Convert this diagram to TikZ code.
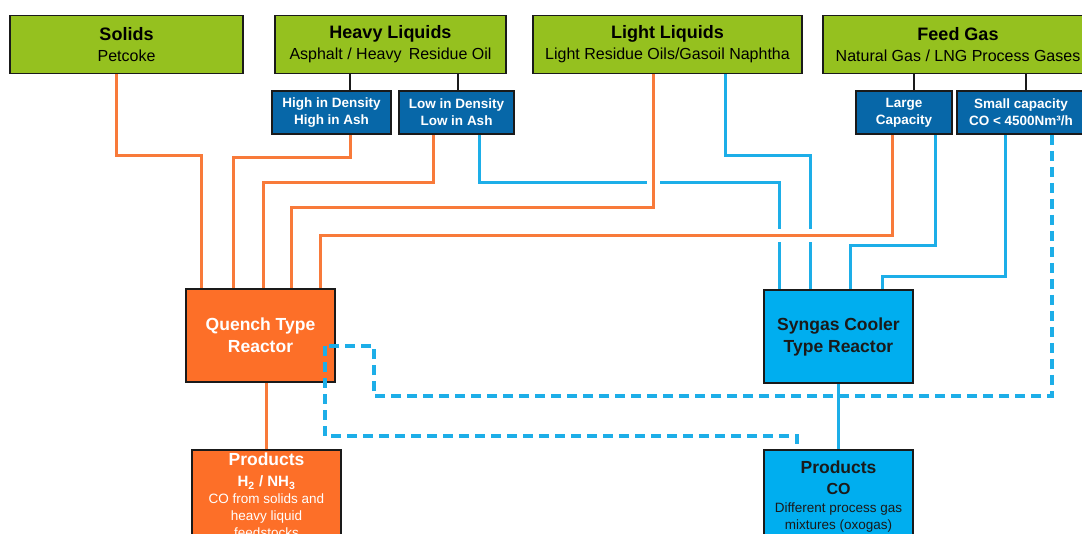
\documentclass[tikz,border=0pt]{standalone}
\usepackage{fontspec}
\setmainfont{Liberation Sans}
\usetikzlibrary{calc}
\definecolor{gbox}{HTML}{95C11F}
\definecolor{dbox}{HTML}{0767A8}
\definecolor{cbox}{HTML}{00AEEF}
\definecolor{obox}{HTML}{FD6F28}
\definecolor{oline}{HTML}{F87A3A}
\definecolor{bline}{HTML}{1DAEE8}
\definecolor{edge}{HTML}{1A1A1A}
\newcommand\fsz[2]{\fontsize{#1}{#2}\selectfont}
\pgfdeclarelayer{back}
\pgfdeclarelayer{bg}
\pgfsetlayers{back,bg,main}
\begin{document}
\begin{tikzpicture}[x=1pt,y=-1pt,
  box/.style={draw=edge,line width=1.8pt,inner sep=0pt,align=center},
  feedbox/.style={box,fill=gbox,minimum height=58pt,font=\fsz{16}{21}},
  subbox/.style={box,fill=dbox,text=white,minimum height=43pt,font=\fsz{13.5}{17}\bfseries},
  reactor/.style={box,minimum width=149pt,minimum height=93pt,font=\fsz{17.5}{22}\bfseries},
  prodbox/.style={box,minimum width=149pt,minimum height=120pt},
  ptext/.style={inner sep=0pt,align=center,font=\fsz{13.5}{17}},
  link/.style={draw=edge,line width=1.5pt},
  oconn/.style={draw=oline,line width=3pt,preaction={draw=white,line width=13pt}},
  bconn/.style={draw=bline,line width=3pt},
  dconn/.style={draw=bline,line width=3.2pt,dash pattern=on 10pt off 6pt},
]
\useasboundingbox (0,0) rectangle (1082,533);
\clip (0,0) rectangle (1082,533);
\begin{pgfonlayer}{back}
\fill[white] (0,0) rectangle (1082,533);
\end{pgfonlayer}

% feed boxes
\node[feedbox,minimum width=233pt] (solids) at (126.5,44.5) {{\fsz{18}{21}\bfseries Solids}\\Petcoke};
\node[feedbox,minimum width=231pt] (heavy) at (390.5,44.5) {{\fsz{18}{21}\bfseries Heavy Liquids}\\Asphalt / Heavy\hspace{0.45em}Residue Oil};
\node[feedbox,minimum width=269pt] (light) at (667.5,44.5) {{\fsz{18}{21}\bfseries Light Liquids}\\Light Residue Oils/Gasoil Naphtha};
\node[feedbox,minimum width=270pt] (feed) at (958,44.5) {{\fsz{18}{21}\bfseries Feed Gas}\\Natural Gas / LNG Process Gases};

% sub boxes
\node[subbox,minimum width=119pt] (hiD) at (331.5,112.5) {High in Density\\High in Ash};
\node[subbox,minimum width=115pt] (loD) at (456.5,112.5) {Low in Density\\Low in Ash};
\node[subbox,minimum width=96pt] (large) at (904,112.5) {Large\\Capacity};
\node[subbox,minimum width=128pt] (small) at (1021,112.5) {Small capacity\\CO < 4500Nm³/h};

% reactors
\node[reactor,fill=obox,text=white] (quench) at (260.5,335.5) {Quench Type\\Reactor};
\node[reactor,fill=cbox,text=edge] (syngas) at (838.5,336.5) {Syngas Cooler\\Type Reactor};

% products
\node[prodbox,fill=obox] (prodQ) at (266.5,510) {};
\node[prodbox,fill=cbox] (prodS) at (838.5,510) {};
\node[ptext,text=white,anchor=north] (prodQt) at ($(prodQ.north)+(0,4)$) {{\fsz{17.5}{21}\bfseries Products}\\[4pt]{\fsz{15}{17}\bfseries H\textsubscript{2} / NH\textsubscript{3}}\\CO from solids and\\heavy liquid\\feedstocks};
\node[ptext,text=edge,anchor=north] (prodSt) at ($(prodS.north)+(0,12)$) {{\fsz{17.5}{21}\bfseries Products}\\[4pt]{\fsz{16}{17}\bfseries CO}\\[1pt]Different process gas\\mixtures (oxogas)};

\begin{pgfonlayer}{bg}
% black links
\draw[link] (heavy.south -| 350,0) -- (hiD.north -| 350,0);
\draw[link] (heavy.south -| 458,0) -- (loD.north -| 458,0);
\draw[link] (feed.south -| 914,0) -- (large.north -| 914,0);
\draw[link] (feed.south -| 1026,0) -- (small.north -| 1026,0);
% blue connectors
\draw[bconn] (loD.south -| 479,0) |- (779,182) -- (syngas.north -| 779,0);
\draw[bconn] (light.south -| 725,0) |- (810,155) -- (syngas.north -| 810,0);
\draw[bconn] (large.south -| 935,0) |- (850,245) -- (syngas.north -| 850,0);
\draw[bconn] (small.south -| 1005,0) |- (882,276) -- (syngas.north -| 882,0);
\draw[bconn] (syngas.south) -- (prodS.north);
% orange connectors
\draw[oconn] (solids.south -| 116,0) |- (201,155) -- (quench.north -| 201,0);
\draw[oconn] (hiD.south -| 350,0) |- (233,157) -- (quench.north -| 233,0);
\draw[oconn] (loD.south -| 433,0) |- (263,182) -- (quench.north -| 263,0);
\draw[oconn] (light.south -| 653,0) |- (291,207) -- (quench.north -| 291,0);
\draw[oconn] (large.south -| 892,0) |- (320,235) -- (quench.north -| 320,0);
\draw[draw=oline,line width=3pt] (quench.south -| prodQ.north) -- (prodQ.north);
\end{pgfonlayer}

% dashed connectors
\coordinate (qport) at (325,346);
\draw[dconn] (small.south -| 1052,0) |- (374,396) |- (qport);
\draw[dconn] (qport) |- (797,436) -- (prodS.north -| 797,0);
\end{tikzpicture}
\end{document}
